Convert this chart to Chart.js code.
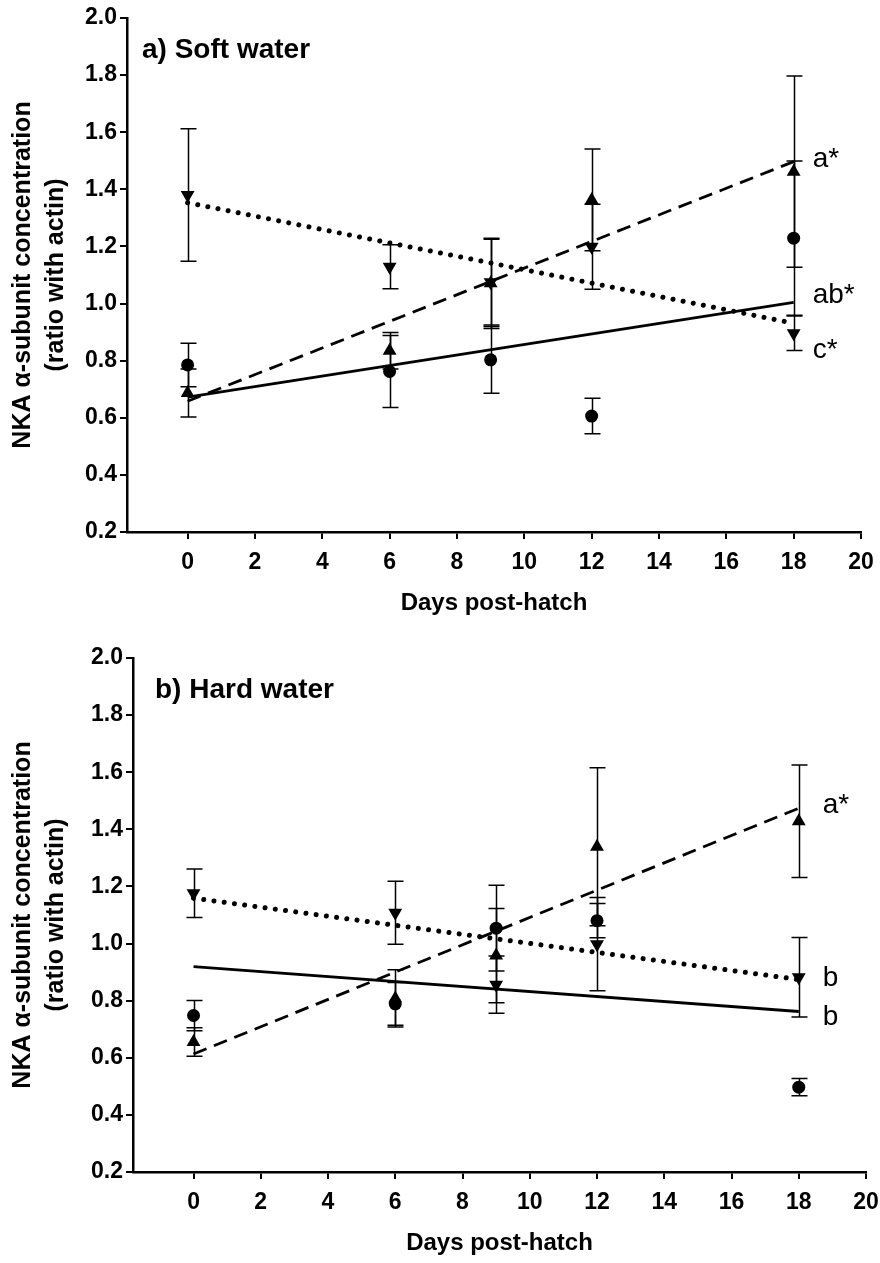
<!DOCTYPE html>
<html>
<head>
<meta charset="utf-8">
<script src="https://cdn.jsdelivr.net/npm/chart.js@4.4.0/dist/chart.umd.min.js"></script>
<style>
  body { margin: 0; background: #fff; width: 880px; height: 1263px; position: relative; overflow: hidden; }
  .panel { position: absolute; left: 0; width: 880px; height: 620px; }
</style>
</head>
<body>
<div class="panel" style="top:0px"><canvas id="chartA" width="880" height="620"></canvas></div>
<div class="panel" style="top:640px"><canvas id="chartB" width="880" height="620"></canvas></div>
<script>
// sampling days and axis ticks
const days = [0, 6, 9, 12, 18];
const xTicks = [0, 2, 4, 6, 8, 10, 12, 14, 16, 18, 20];
const yTicks = [0.2, 0.4, 0.6, 0.8, 1.0, 1.2, 1.4, 1.6, 1.8, 2.0];

// a) soft water - means and error bars
const softCircle = [0.785, 0.762, 0.803, 0.606, 1.229];
const softCircleErr = [0.076, 0.126, 0.117, 0.062, 0.270];
const softTri = [0.687, 0.835, 1.071, 1.363, 1.462];
const softTriErr = [0.084, 0.064, 0.158, 0.178, 0.335];
const softInv = [1.380, 1.129, 1.075, 1.199, 0.896];
const softInvErr = [0.232, 0.077, 0.150, 0.149, 0.060];

// b) hard water - means and error bars
const hardCircle = [0.748, 0.789, 1.054, 1.080, 0.497];
const hardCircleErr = [0.053, 0.075, 0.150, 0.060, 0.030];
const hardTri = [0.655, 0.808, 0.958, 1.339, 1.428];
const hardTriErr = [0.050, 0.100, 0.165, 0.277, 0.197];
const hardInv = [1.176, 1.108, 0.856, 0.998, 0.882];
const hardInvErr = [0.085, 0.110, 0.100, 0.163, 0.139];

// trend lines (ends at day 0 and day 18)
const trendDays = [0, 18];
const softSolid = [0.672, 1.004];
const softDashed = [0.658, 1.497];
const softDotted = [1.353, 0.931];
const hardSolid = [0.919, 0.762];
const hardDashed = [0.613, 1.474];
const hardDotted = [1.159, 0.874];

// letters at the end of the lines
const softLabels = ['a*', 'ab*', 'c*'];
const softLabelY = [1.479, 1.001, 0.808];
const hardLabels = ['a*', 'b', 'b'];
const hardLabelY = [1.456, 0.852, 0.715];

const FONT = '"Liberation Sans", Arial, Helvetica, sans-serif';
Chart.defaults.font.family = FONT;
Chart.defaults.color = '#000';

const pts = (xs, ys) => xs.map((x, i) => ({ x: x, y: ys[i] }));

// vertical error bars with caps
const errorBars = {
  id: 'errorBars',
  beforeDatasetsDraw(chart) {
    const ctx = chart.ctx, xs = chart.scales.x, ys = chart.scales.y;
    ctx.save();
    ctx.strokeStyle = '#000';
    ctx.lineWidth = 1.5;
    chart.data.datasets.forEach(ds => {
      if (!ds.err) return;
      ds.data.forEach((p, i) => {
        const x = Math.round(xs.getPixelForValue(p.x)) + 0.5;
        const y1 = ys.getPixelForValue(p.y + ds.err[i]);
        const y2 = ys.getPixelForValue(p.y - ds.err[i]);
        ctx.beginPath();
        ctx.moveTo(x, y1); ctx.lineTo(x, y2);
        ctx.moveTo(x - 8, y1); ctx.lineTo(x + 8, y1);
        ctx.moveTo(x - 8, y2); ctx.lineTo(x + 8, y2);
        ctx.stroke();
      });
    });
    ctx.restore();
  }
};

// panel title and letters beside the line ends
const panelText = {
  id: 'panelText',
  afterDraw(chart, args, opts) {
    const ctx = chart.ctx, xs = chart.scales.x, ys = chart.scales.y, area = chart.chartArea;
    ctx.save();
    ctx.fillStyle = '#000';
    ctx.textBaseline = 'alphabetic';
    ctx.textAlign = 'left';
    ctx.font = 'bold 28px ' + FONT;
    ctx.fillText(opts.title, area.left + opts.titleDx, area.top + opts.titleDy);
    ctx.font = '28px ' + FONT;
    opts.labels.forEach((t, i) => {
      ctx.fillText(t, xs.getPixelForValue(18) + opts.labelDx, ys.getPixelForValue(opts.labelY[i]));
    });
    ctx.restore();
  }
};

function makeChart(id, p) {
  const markers = (vals, err, style, rot, r) => ({
    type: 'line', data: pts(days, vals), err: err, showLine: false,
    pointStyle: style, pointRotation: rot, pointRadius: r, pointHoverRadius: r,
    pointBackgroundColor: '#000', pointBorderColor: '#000', pointBorderWidth: 0
  });
  const trend = (vals, width, dash, cap) => ({
    type: 'line', data: pts(trendDays, vals), borderColor: '#000', borderWidth: width,
    borderDash: dash, borderCapStyle: cap, pointRadius: 0, fill: false
  });
  return new Chart(document.getElementById(id), {
    type: 'line',
    data: {
      datasets: [
        trend(p.solid, 2.8, [], 'butt'),
        trend(p.dashed, 2.8, [14, 8], 'butt'),
        trend(p.dotted, 5, [0.01, 10.3], 'round'),
        markers(p.circle, p.circleErr, 'circle', 0, 6.5),
        markers(p.tri, p.triErr, 'triangle', 0, 8),
        markers(p.inv, p.invErr, 'triangle', 180, 8)
      ]
    },
    options: {
      responsive: false,
      animation: false,
      layout: { padding: { top: 18, right: p.padRight, bottom: 0, left: 0 } },
      plugins: {
        legend: { display: false },
        tooltip: { enabled: false },
        panelText: { title: p.title, titleDx: p.titleDx, titleDy: 40, labels: p.labels, labelY: p.labelY, labelDx: p.labelDx }
      },
      scales: {
        x: {
          type: 'linear', min: -1.8, max: 20,
          afterBuildTicks: s => { s.ticks = xTicks.map(v => ({ value: v })); },
          // fixed height, and no extra side padding for the end labels
          afterFit: s => { s.height = 88; s.paddingLeft = 0; s.paddingRight = 0; },
          grid: { drawOnChartArea: false, drawTicks: true, tickLength: 7, color: '#000', lineWidth: 2 },
          border: { display: true, color: '#000', width: 2.5 },
          ticks: { font: { size: 23, weight: 'bold' }, color: '#000', padding: 10, maxRotation: 0, autoSkip: false },
          title: { display: true, text: 'Days post-hatch', color: '#000',
                   font: { size: 24, weight: 'bold' }, padding: { top: 0, bottom: 2 } }
        },
        y: {
          type: 'linear', min: 0.2, max: 2.0,
          afterBuildTicks: s => { s.ticks = yTicks.map(v => ({ value: v })); },
          afterFit: s => { s.width = p.yWidth; },
          grid: { drawOnChartArea: false, drawTicks: true, tickLength: 7, color: '#000', lineWidth: 2 },
          border: { display: true, color: '#000', width: 2.5 },
          ticks: { font: { size: 23, weight: 'bold' }, color: '#000', padding: 3,
                   callback: v => v.toFixed(1) },
          title: { display: true, text: ['NKA \u03b1-subunit concentration', '(ratio with actin)'], color: '#000',
                   font: { size: 25, weight: 'bold', lineHeight: 1.32 }, padding: { top: 7, bottom: 0 } }
        }
      }
    },
    plugins: [errorBars, panelText]
  });
}

makeChart('chartA', {
  circle: softCircle, circleErr: softCircleErr, tri: softTri, triErr: softTriErr, inv: softInv, invErr: softInvErr,
  solid: softSolid, dashed: softDashed, dotted: softDotted,
  labels: softLabels, labelY: softLabelY, labelDx: 19,
  title: 'a) Soft water', titleDx: 15, yWidth: 127, padRight: 19
});

makeChart('chartB', {
  circle: hardCircle, circleErr: hardCircleErr, tri: hardTri, triErr: hardTriErr, inv: hardInv, invErr: hardInvErr,
  solid: hardSolid, dashed: hardDashed, dotted: hardDotted,
  labels: hardLabels, labelY: hardLabelY, labelDx: 24,
  title: 'b) Hard water', titleDx: 22, yWidth: 133, padRight: 14
});
</script>
</body>
</html>
